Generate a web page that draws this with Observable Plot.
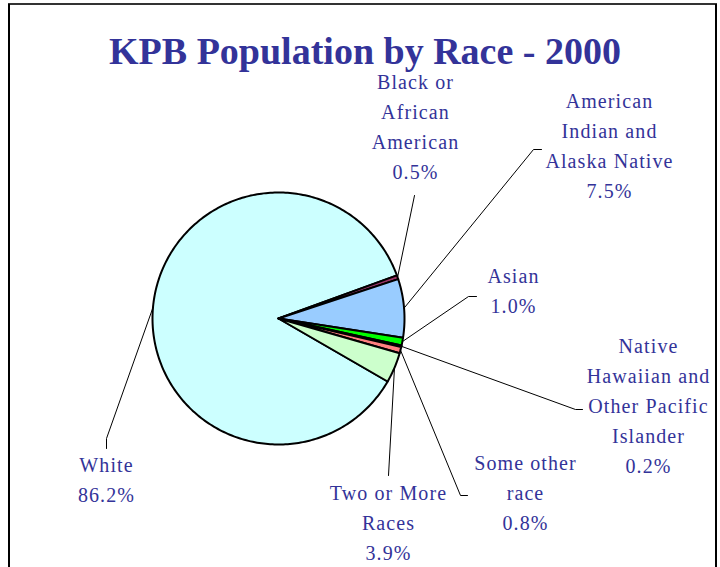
<!DOCTYPE html>
<html>
<head>
<meta charset="utf-8">
<script src="https://cdn.jsdelivr.net/npm/d3@7"></script>
<script src="https://cdn.jsdelivr.net/npm/@observablehq/plot@0.6"></script>
<style>
  body { margin: 0; background: #fff; }
  #wrap { position: relative; width: 720px; height: 567px; overflow: hidden; background: #fff; }
  #topbar { position: absolute; left: 8px; top: 3px; width: 709px; height: 2px; background: #333; }
  #leftline { position: absolute; left: 8px; top: 4px; width: 1.5px; height: 580px; background: #000; }
  #rightline { position: absolute; left: 715px; top: 4px; width: 1.5px; height: 580px; background: #000; }
  #title { position: absolute; left: 0; top: 29px; width: 730px; text-align: center;
           font: bold 38px "Liberation Serif", "Times New Roman", serif; color: #333399; white-space: nowrap; }
  #chart { position: absolute; left: 0; top: 0; }
  #chart svg, #chart svg text { font-family: "Liberation Serif", "Times New Roman", serif !important; }
  #chart svg text { letter-spacing: 1.1px; }
</style>
</head>
<body>
<div id="wrap">
  <div id="topbar"></div>
  <div id="leftline"></div>
  <div id="rightline"></div>
  <div id="chart"></div>
  <div id="title">KPB Population by Race - 2000</div>
</div>
<script>
// ---- data ----
const categories = ["White", "Black or African American", "American Indian and Alaska Native", "Asian",
  "Native Hawaiian and Other Pacific Islander", "Some other race", "Two or More Races"];
const percents = [86.2, 0.5, 7.5, 1.0, 0.2, 0.8, 3.9];
const labelLines = [["White"], ["Black or", "African", "American"], ["American", "Indian and", "Alaska Native"],
  ["Asian"], ["Native", "Hawaiian and", "Other Pacific", "Islander"], ["Some other", "race"], ["Two or More", "Races"]];

// ---- styles / layout ----
const sliceColors = ["#CCFFFF", "#993366", "#99CCFF", "#00FF00", "#000080", "#FF8080", "#CCFFCC"];
const pie = { cx: 278, cy: 318, r: 126, startAngle: 120 }; // compass degrees, clockwise
const labelFont = 20;
const labelTop = [[106, 450], [415, 67], [609, 86], [513, 261], [648, 331], [525, 448], [388, 478]];
const leaderStart = [[[106, 448], [106, 438]], [[414, 195]], [[541, 149], [533, 149]], [[476, 296], [468, 296]],
  [[582, 409], [575, 409]], [[467, 495], [460, 495]], [[388, 475]]];

// ---- build geometry from values ----
const total = d3.sum(percents);
const pt = (deg, rr) => {
  const a = deg * Math.PI / 180;
  return { x: pie.cx + rr * Math.sin(a), y: pie.cy - rr * Math.cos(a) };
};
const slicePts = [];
const leaderPts = [];
let acc = pie.startAngle;
percents.forEach((v, i) => {
  const span = v / total * 360;
  const a0 = acc, a1 = acc + span;
  const n = Math.max(2, Math.ceil(span));
  slicePts.push({ name: categories[i], color: sliceColors[i], x: pie.cx, y: pie.cy });
  for (let k = 0; k <= n; k++) {
    const p = pt(a0 + (a1 - a0) * k / n, pie.r);
    slicePts.push({ name: categories[i], color: sliceColors[i], ...p });
  }
  slicePts.push({ name: categories[i], color: sliceColors[i], x: pie.cx, y: pie.cy });
  const mid = pt((a0 + a1) / 2, pie.r);
  leaderStart[i].forEach(([x, y]) => leaderPts.push({ name: categories[i], x, y }));
  leaderPts.push({ name: categories[i], ...mid });
  acc = a1;
});
const labels = categories.map((c, i) => ({
  name: c,
  x: labelTop[i][0],
  y: labelTop[i][1],
  text: [...labelLines[i], percents[i].toFixed(1) + "%"].join("\n")
}));

const chart = Plot.plot({
  width: 720, height: 567, margin: 0,
  style: { background: "transparent", overflow: "visible", fontFamily: "Liberation Serif" },
  x: { domain: [0, 720], range: [0, 720], axis: null },
  y: { domain: [0, 567], range: [0, 567], axis: null },
  color: { type: "identity" },
  marks: [
    Plot.line(slicePts, { x: "x", y: "y", z: "name", fill: "color", stroke: "#000", strokeWidth: 2,
      strokeLinejoin: "round", curve: "linear" }),
    Plot.line(leaderPts, { x: "x", y: "y", z: "name", stroke: "#000", strokeWidth: 1, curve: "linear" }),
    Plot.text(labels, { x: "x", y: "y", text: "text", lineAnchor: "top", textAnchor: "middle", lineHeight: 1.5,
      fontSize: labelFont, fontFamily: "Liberation Serif", fill: "#333399" })
  ]
});
document.getElementById("chart").appendChild(chart);
</script>
</body>
</html>
